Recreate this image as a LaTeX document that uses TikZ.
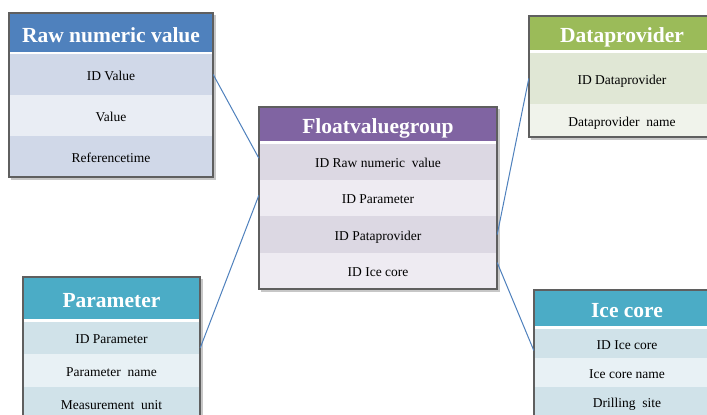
\documentclass[tikz,border=0pt]{standalone}
\usepackage{fontspec}
\setmainfont{Liberation Serif}
\usetikzlibrary{calc}

% table palettes
\definecolor{blueHead}{HTML}{4F81BD}
\definecolor{blueDark}{HTML}{D0D8E8}
\definecolor{blueLight}{HTML}{E9EDF4}
\definecolor{purpHead}{HTML}{8064A2}
\definecolor{purpDark}{HTML}{DCD8E3}
\definecolor{purpLight}{HTML}{EEEBF2}
\definecolor{greenHead}{HTML}{9BBB59}
\definecolor{greenDark}{HTML}{E0E7D5}
\definecolor{greenLight}{HTML}{F0F3EB}
\definecolor{aquaHead}{HTML}{4BACC6}
\definecolor{aquaDark}{HTML}{D0E2E9}
\definecolor{aquaLight}{HTML}{E8F1F5}
\definecolor{frameGray}{HTML}{5F5F5F}
\definecolor{linkBlue}{HTML}{4F81BD}

\tikzset{
  x=1pt, y=-1pt,
  hdr/.style={fill=#1, draw=none, inner sep=0pt, text=white,
    text height=21pt, text depth=2pt,
    font=\fontsize{21.5}{21.5}\selectfont\bfseries},
  cell/.style={fill=#1, draw=none, inner sep=0pt, text=black,
    text height=12pt, text depth=1pt,
    font=\fontsize{13.5}{13.5}\selectfont},
  frame/.style={draw=frameGray, line width=1.1pt},
  shade/.style={fill=black!22, draw=none},
  link/.style={draw=linkBlue, line width=1pt},
}

\begin{document}
\begin{tikzpicture}
\useasboundingbox (0,0) rectangle (707,415);
\fill[white] (0,0) rectangle (707,415);

% drop shadows
\fill[shade] (11,15) rectangle (216,180);
\fill[shade] (261,109) rectangle (500,292);
\fill[shade] (531,18) rectangle (718,140);
\fill[shade] (25,279) rectangle (203,425);
\fill[shade] (536,292) rectangle (723,420);

% Raw numeric value
\fill[white] (9,13) rectangle (213,177);
\node[hdr=blueHead, minimum width=204pt, minimum height=39pt] (rh) at (111,32.5) {Raw numeric value};
\node[cell=blueDark, minimum width=204pt, minimum height=41pt] (r1) at (111,74.5) {ID Value};
\node[cell=blueLight, minimum width=204pt, minimum height=41pt] (r2) at (111,115.5) {Value};
\node[cell=blueDark, minimum width=204pt, minimum height=41pt] (r3) at (111,156.5) {Referencetime};
\draw[frame] (9,13) rectangle (213,177);

% Floatvaluegroup
\fill[white] (259,107) rectangle (497,289);
\node[hdr=purpHead, minimum width=238pt, minimum height=34pt] (fh) at (378,124) {Floatvaluegroup};
\node[cell=purpDark, minimum width=238pt, minimum height=36.25pt] (f1) at (378,162.1) {ID Raw numeric\ \ value};
\node[cell=purpLight, minimum width=238pt, minimum height=36.25pt] (f2) at (378,198.4) {ID Parameter};
\node[cell=purpDark, minimum width=238pt, minimum height=36.25pt] (f3) at (378,234.6) {ID Pataprovider};
\node[cell=purpLight, minimum width=238pt, minimum height=36.25pt] (f4) at (378,270.9) {ID Ice core};
\draw[frame] (259,107) rectangle (497,289);

% Dataprovider
\fill[white] (529,16) rectangle (715,137);
\node[hdr=greenHead, minimum width=186pt, minimum height=34pt] (dh) at (622,33) {Dataprovider};
\node[cell=greenDark, minimum width=186pt, minimum height=51pt] (d1) at (622,78.5) {ID Dataprovider};
\node[cell=greenLight, minimum width=186pt, minimum height=33pt] (d2) at (622,120.5) {Dataprovider\ \ name};
\draw[frame] (529,16) rectangle (715,137);

% Parameter
\fill[white] (23,277) rectangle (200,420);
\node[hdr=aquaHead, minimum width=177pt, minimum height=42pt] (ph) at (111.5,298) {Parameter};
\node[cell=aquaDark, minimum width=177pt, minimum height=32pt] (p1) at (111.5,338) {ID Parameter};
\node[cell=aquaLight, minimum width=177pt, minimum height=33pt] (p2) at (111.5,370.5) {Parameter\ \ name};
\node[cell=aquaDark, minimum width=177pt, minimum height=33pt] (p3) at (111.5,403.5) {Measurement\ \ unit};
\draw[frame] (23,277) rectangle (200,420);

% Ice core
\fill[white] (534,290) rectangle (720,416);
\node[hdr=aquaHead, minimum width=186pt, minimum height=36pt] (ih) at (627,308) {Ice core};
\node[cell=aquaDark, minimum width=186pt, minimum height=29pt] (i1) at (627,343.5) {ID Ice core};
\node[cell=aquaLight, minimum width=186pt, minimum height=29pt] (i2) at (627,372.5) {Ice core name};
\node[cell=aquaDark, minimum width=186pt, minimum height=29pt] (i3) at (627,401.5) {Drilling\ \ site};
\draw[frame] (534,290) rectangle (720,420);

% relations
\draw[link] (r1.east) -- ($(f1.west)+(0,-4)$);
\draw[link] ($(p1.east)+(0,10)$) -- ($(f2.west)+(0,-3)$);
\draw[link] (f3.east) -- (d1.west);
\draw[link] ($(f4.north east)+(0,10)$) -- ($(i1.west)+(0,7)$);
\end{tikzpicture}
\end{document}
